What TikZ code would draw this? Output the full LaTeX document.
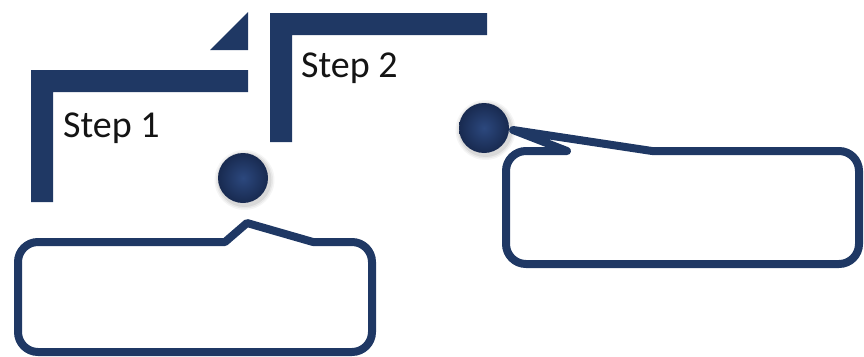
\documentclass[tikz,border=0pt]{standalone}
\usepackage{fontspec}
\setmainfont{Carlito}
\definecolor{navy}{RGB}{31,56,100}
\definecolor{navylight}{RGB}{44,72,126}
\definecolor{navydark}{RGB}{24,42,80}
\definecolor{inkgray}{RGB}{20,20,20}
\tikzset{
  bar/.style={fill=navy, draw=none},
  steplabel/.style={font=\fontsize{38}{40}\selectfont, text=inkgray, inner sep=0pt, anchor=base west},
  ball/.style={circle, minimum size=50pt, inner sep=0pt, draw=none,
               inner color=navylight, outer color=navydark},
  callout/.style={draw=navy, line width=8pt, line join=round, line cap=round},
}
\begin{document}
\begin{tikzpicture}[x=1pt,y=-1pt]
\useasboundingbox (0,0) rectangle (864,356);

% step brackets
\fill[bar] (31,70) -- (248,70) -- (248,92) -- (53,92) -- (53,202) -- (31,202) -- cycle;
\fill[bar] (248,12) -- (248,50) -- (210,50) -- cycle;
\fill[bar] (270,13) -- (487,13) -- (487,35) -- (292,35) -- (292,142) -- (270,142) -- cycle;

\node[steplabel] (s1) at (63,137) {Step 1};
\node[steplabel] (s2) at (301,77) {Step 2};

% soft shadows under the markers
\foreach \cx/\cy in {243/178, 484/128}{
  \foreach \r/\o in {30/0.04, 28.5/0.05, 27/0.07}{
    \fill[black, opacity=\o] (\cx+1.5,\cy+2) circle[radius=\r pt];
  }
}
\node[ball] (b1) at (243,178) {};
\node[ball] (b2) at (484,128) {};

% callout under step 1
\draw[callout] (120,242) -- (225,242) -- (247,223) -- (313,242)
  [rounded corners=20pt] -- (372,242) -- (372,352) -- (18,352) -- (18,242) -- cycle;

% callout to the right
\draw[callout] (720,151) -- (652,151) -- (513,130) -- (567,151)
  [rounded corners=20pt] -- (506,151) -- (506,264) -- (859,264) -- (859,151) -- cycle;
\end{tikzpicture}
\end{document}
